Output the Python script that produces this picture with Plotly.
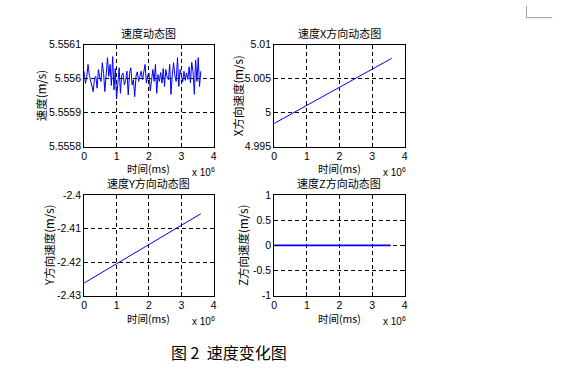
import plotly.graph_objects as go

W, H = 577, 390

# ---------------- data ----------------
# time in units of 10^6 ms
t_speed = [0.00, 0.04, 0.08, 0.12, 0.16, 0.20, 0.24, 0.28, 0.32, 0.36,
           0.40, 0.44, 0.48, 0.52, 0.56, 0.60, 0.64, 0.68, 0.72, 0.76,
           0.80, 0.84, 0.88, 0.92, 0.96, 1.00, 1.04, 1.08, 1.12, 1.16,
           1.20, 1.24, 1.28, 1.32, 1.36, 1.40, 1.44, 1.48, 1.52, 1.56,
           1.60, 1.64, 1.68, 1.72, 1.76, 1.80, 1.84, 1.88, 1.92, 1.96,
           2.00, 2.04, 2.08, 2.12, 2.16, 2.20, 2.24, 2.28, 2.32, 2.36,
           2.40, 2.44, 2.48, 2.52, 2.56, 2.60, 2.64, 2.68, 2.72, 2.76,
           2.80, 2.84, 2.88, 2.92, 2.96, 3.00, 3.04, 3.08, 3.12, 3.16,
           3.20, 3.24, 3.28, 3.32, 3.36, 3.40, 3.44, 3.48, 3.52, 3.56, 3.60]
# speed offsets from 5.556 in 1e-6 m/s
speed_offset = [22, -14, 5, 42, 10, -8, -30, -38, 2, 7,
                -28, 27, 5, -8, 47, 15, -38, 5, 62, 7,
                42, -20, 65, -33, 30, -60, -10, 32, -43, 10,
                17, -18, -5, 22, -48, 15, 32, -18, -3, -53,
                8, 20, -8, 12, 22, -3, 27, 42, -13, 10,
                17, -36, -5, 27, -8, 42, -43, 12, -8, 18,
                -13, 30, -23, 27, 5, -3, 42, -46, 12, 47,
                8, -8, 62, -23, 27, 5, -10, 22, -5, 17,
                -2, 35, -12, 48, 20, -46, 55, -8, 62, -23, 22]
speed_base = 5.556
speed = [speed_base + v * 1e-6 for v in speed_offset]

t_line = [0.0, 1.0, 2.0, 3.0, 3.6]
vx = [4.9984, 5.0011, 5.0037, 5.0064, 5.0080]
vy = [-2.4262, -2.4204, -2.4147, -2.4090, -2.4056]
t_z = [0.0, 3.57]
vz = [0.0, 0.0]

x_ticks = [0, 1, 2, 3, 4]
y1_ticks = [5.5558, 5.5559, 5.556, 5.5561]
y1_text = ["5.5558", "5.5559", "5.556", "5.5561"]
y2_ticks = [4.995, 5.0, 5.005, 5.01]
y2_text = ["4.995", "5", "5.005", "5.01"]
y3_ticks = [-2.43, -2.42, -2.41, -2.4]
y3_text = ["-2.43", "-2.42", "-2.41", "-2.4"]
y4_ticks = [-1, -0.5, 0, 0.5, 1]
y4_text = ["-1", "-0.5", "0", "0.5", "1"]

titles = ["速度动态图", "速度X方向动态图", "速度Y方向动态图", "速度Z方向动态图"]
ylabels = ["速度(m/s)", "X方向速度(m/s)", "Y方向速度(m/s)", "Z方向速度(m/s)"]
xlabel = "时间(ms)"
caption = "图 2  速度变化图"

# ---------------- layout geometry (pixels) ----------------
panels = [
    dict(x0=82, x1=213, y0=40, y1=145),
    dict(x0=274, x1=406, y0=40, y1=145),
    dict(x0=82, x1=213, y0=195, y1=299),
    dict(x0=274, x1=406, y0=195, y1=299),
]

def px(x):
    return x / W

def py(y):
    return 1 - y / H

fig = go.Figure()
series = [(t_speed, speed, 1), (t_line, vx, 1), (t_line, vy, 1), (t_z, vz, 1.6)]
for i, (xs, ys, lw) in enumerate(series):
    n = "" if i == 0 else str(i + 1)
    fig.add_trace(go.Scatter(x=xs, y=ys, mode="lines",
                             line=dict(color="#0000ff", width=lw),
                             xaxis="x" + n, yaxis="y" + n, showlegend=False,
                             hoverinfo="skip"))

tick_font = dict(family="Liberation Sans, Arial", size=10.5, color="#000")
cjk = "Noto Sans CJK SC"
yranges = [(5.5558, 5.5561), (4.995, 5.01), (-2.43, -2.4), (-1, 1)]
yticks = [(y1_ticks, y1_text), (y2_ticks, y2_text), (y3_ticks, y3_text), (y4_ticks, y4_text)]

layout = dict(width=W, height=H, margin=dict(l=0, r=0, t=0, b=0),
              paper_bgcolor="white", plot_bgcolor="white")
ax_common = dict(showline=True, linecolor="black", linewidth=1, mirror="ticks",
                 ticks="inside", ticklen=4, tickcolor="black", tickwidth=1,
                 showgrid=True, gridcolor="black", gridwidth=1, griddash="4px,3px",
                 zeroline=False, tickfont=tick_font, fixedrange=True)
for i, p in enumerate(panels):
    n = "" if i == 0 else str(i + 1)
    layout["xaxis" + n] = dict(ax_common, domain=[px(p["x0"]), px(p["x1"])],
                               range=[0, 4], tickvals=x_ticks,
                               anchor="y" + n)
    layout["yaxis" + n] = dict(ax_common, domain=[py(p["y1"]), py(p["y0"])],
                               range=list(yranges[i]), tickvals=yticks[i][0],
                               ticktext=yticks[i][1], anchor="x" + n)
fig.update_layout(**layout)

ann = []
for i, p in enumerate(panels):
    cx = (p["x0"] + p["x1"]) / 2
    cy = (p["y0"] + p["y1"]) / 2
    ann.append(dict(x=px(cx), y=py(p["y0"] - 12), text=titles[i],
                    font=dict(family=cjk, size=11, color="#000")))
    ann.append(dict(x=px(cx), y=py(p["y1"] + 23), text=xlabel,
                    font=dict(family=cjk, size=10.5, color="#000")))
    ann.append(dict(x=px(p["x1"] - 10), y=py(p["y1"] + 26),
                    text="x 10<sup>6</sup>",
                    font=dict(family="Liberation Sans, Arial", size=10, color="#000")))
    lx = [38, 237, 47, 243][i]
    ann.append(dict(x=px(lx), y=py(cy), text=ylabels[i], textangle=-90))
for a in ann:
    a.setdefault("font", dict(family=cjk, size=11.5, color="#000"))
    a.update(xref="paper", yref="paper", showarrow=False, borderpad=0,
             xanchor="center", yanchor="middle")
ann.append(dict(x=px(228), y=py(357), text=caption, xref="paper", yref="paper",
                showarrow=False, xanchor="center", yanchor="middle",
                font=dict(family=cjk, size=16, color="#000")))
fig.update_layout(annotations=ann)

# page corner mark
fig.add_shape(type="line", xref="paper", yref="paper", x0=px(529), x1=px(529),
              y0=py(0), y1=py(12), line=dict(color="#a0a0a0", width=1))
fig.add_shape(type="line", xref="paper", yref="paper", x0=px(529), x1=px(555),
              y0=py(12), y1=py(12), line=dict(color="#a0a0a0", width=1))

fig.write_html("out.html", config={"displayModeBar": False},
               post_script="document.body.style.margin='0';document.body.style.overflow='hidden';")
